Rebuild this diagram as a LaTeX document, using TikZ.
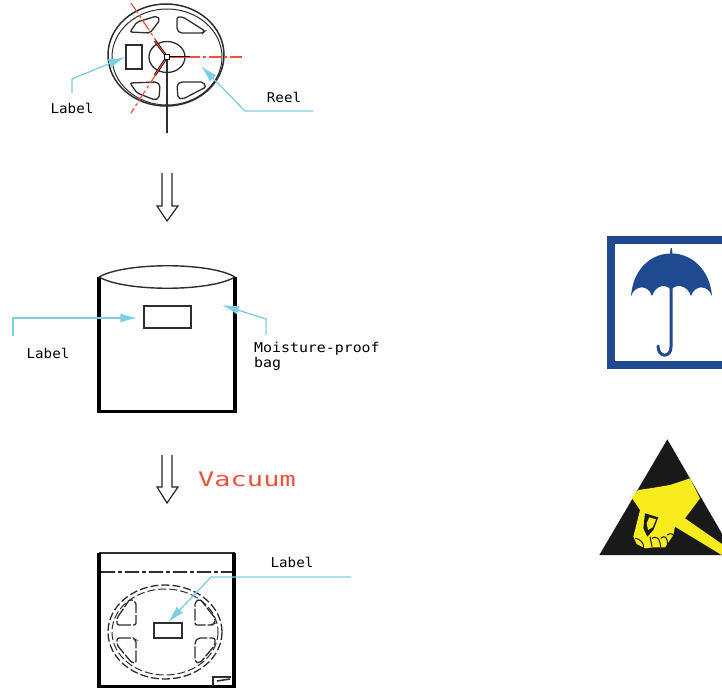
\documentclass[tikz,border=0pt]{standalone}
\usepackage{fontspec}
\setmonofont{DejaVu Sans Mono}
\usetikzlibrary{arrows.meta}
\definecolor{leader}{HTML}{7CCFE0}
\definecolor{linegray}{HTML}{2E2E2E}
\definecolor{redline}{HTML}{F0503C}
\definecolor{signblue}{HTML}{1F4A8F}
\definecolor{signyellow}{HTML}{F7EC1E}
\tikzset{
cad/.style={draw=linegray,line width=1.3pt},
cadtext/.style={inner sep=0pt,text=black,font=\ttfamily\fontsize{13.5}{15}\selectfont,align=left,transform shape,xscale=1.05},
callout/.style={draw=leader,line width=1.3pt,-{Latex[length=17pt,width=9pt]}},
labelbox/.style={cad,inner sep=0pt,minimum width=#1},
thickwall/.style={draw=black,line width=3.4pt,line cap=butt},
hollow/.style={draw=black!85,line width=1.2pt,fill=white,line join=miter},
reddash/.style={redline,line width=1.2pt,dash pattern=on 12pt off 3pt on 3pt off 3pt},
cutline/.style={cad,dash pattern=on 12pt off 2pt,rounded corners=2pt},
}
\begin{document}
\begin{tikzpicture}[x=1pt,y=-1pt]
\useasboundingbox(0,0)rectangle(722,688);
\clip(0,0)rectangle(722,688);
% reel
\draw[cad,line width=1.5pt](166,55)ellipse[x radius=58,y radius=51];\draw[cad,line width=1pt](167,57)ellipse[x radius=55,y radius=48];
\draw[cad](167,57)ellipse[x radius=18,y radius=15.5];
\draw[cad,rounded corners=2pt](130,32)--(137,22)--(157,16)--(160,20)--(150,33)--cycle;
\draw[cad,rounded corners=2pt](177,17)--(183,17)--(205,31)--(203,33)--(180,33)--(177,30)--cycle;
\draw[cad,rounded corners=2pt](130,83)--(157,82)--(160,85)--(159,98)--(155,100)--(137,93)--cycle;
\draw[cad,rounded corners=2pt](177,85)--(180,82)--(203,82)--(206,87)--(183,99)--(178,98)--cycle;
\node[labelbox=16pt,minimum height=24pt](reellabel) at(134,57){};
\draw[reddash](131,3)--(167,57)--(131,113);\draw[reddash](167,57)--(242,57);
\draw[black,line width=2.4pt](155,41)--(167,57)--(155,75);\draw[black,line width=2.4pt](167,57)--(190,57);
\draw[redline,line width=1pt](155,41)--(167,57)--(155,75);\draw[redline,line width=1pt](167,57)--(190,57);
\draw[cad](167,57)--(167,133);\draw[black,fill=white,line width=1.4pt](164.5,54.5)rectangle(169.5,59.5);
\coordinate(reellabelend) at(72,93);\coordinate(reellabelbend) at(72,79);
\coordinate(reelend) at(313,111);\coordinate(reelbend) at(245,111);\coordinate(reeltip) at(201,66);
\draw[callout](reellabelend)--(reellabelbend)--(reellabel.west);\draw[callout](reelend)--(reelbend)--(reeltip);
\node[cadtext](reellabeltext) at(72,108){Label};\node[cadtext](reeltext) at(284,97){Reel};
% arrows
\draw[hollow](162,173)--(162,206)--(157,206)--(167,221)--(178,206)--(172,206)--(172,173);
\draw[hollow](162,455)--(162,487)--(157,487)--(167,503)--(178,487)--(172,487)--(172,455);
\node[inner sep=0pt,text=redline,transform shape,xscale=1.35,font=\ttfamily\fontsize{20}{22}\selectfont](vacuumtext) at(247,479){Vacuum};
% bag
\draw[thickwall](99,277)--(99,411.5)--(235,411.5)--(235,277);
\draw[cad,line width=1.4pt](99,277)..controls(125,262)and(210,262)..(235,277);\draw[cad,line width=1.4pt](99,277)..controls(125,292)and(210,292)..(235,277);
\node[labelbox=47pt,minimum height=22pt](baglabel) at(167.5,317){};
\coordinate(baglabelend) at(13,336);\coordinate(baglabelbend) at(13,318);
\coordinate(bagend) at(266,335);\coordinate(bagbend) at(266,319);\coordinate(bagtip) at(222,305);
\draw[callout,shorten >=6pt](baglabelend)--(baglabelbend)--(baglabelbend-|baglabel.west);\draw[callout](bagend)--(bagbend)--(bagtip);
\node[cadtext](baglabeltext) at(48,353){Label};
\node[cadtext,anchor=north west,xscale=1.05](bagtext) at(254,342){Moisture-proof\\bag};
% vacuum bag
\draw[cad](99,553)--(235,553);\draw[black,line width=4.5pt](99,553)--(99,688);\draw[black,line width=4.5pt](234,553)--(234,688);\draw[black,line width=3pt](99,686)--(234,686);
\draw[cad,dash pattern=on 14pt off 3pt on 4pt off 3pt](101,572)--(232,572);
\draw[cad,dash pattern=on 8pt off 3pt](165,632)ellipse[x radius=57,y radius=47];\draw[cad,line width=1pt,dash pattern=on 8pt off 3pt](165,632)ellipse[x radius=53,y radius=43];
\draw[cutline](117,625)--(136,625)--(136,602)--(130,599)--(117,618)--cycle;
\draw[cutline](195,602)--(200,599)--(215,618)--(215,623)--(212,625)--(195,625)--cycle;
\draw[cutline](117,638)--(133,638)--(136,640)--(136,663)--(132,663)--(117,645)--cycle;
\draw[cutline](195,642)--(198,638)--(215,638)--(215,645)--(200,663)--(195,662)--cycle;
\node[labelbox=28pt,minimum height=15pt](vaclabel) at(168,630.5){};
\coordinate(vacend) at(351,577);\coordinate(vacbend) at(211,577);
\draw[callout](vacend)--(vacbend)--(vaclabel.north);
\node[cadtext](vactext) at(292,562){Label};
\draw[cad](213,686)--(213,677)--(231,677);\draw[cad,line width=1.6pt](217,681)--(230,679);
% rain sign
\draw[signblue,line width=7.5pt](722,240)--(611,240)--(611,365)--(722,365);
\fill[signblue](631,296)..controls(633,270)and(650,254)..(670,253.5)--(670.6,248)--(671.8,248)--(672.5,253.5)..controls(692,254)and(710,270)..(712,296)..controls(708,285)and(695,284)..(691,296)..controls(687,284)and(675,284)..(671,290)..controls(667,284)and(656,284)..(652,296)..controls(648,284)and(635,285)..(631,296)--cycle;
\draw[signblue,line width=3pt,line cap=round](671,288)--(671,347)..controls(671,358)and(658,358)..(658,346);
% esd sign
\begin{scope}[shift={(590,430)},scale=1/3]
\fill[black!90](232,28)--(433,375)--(28,375)--cycle;
\fill[signyellow](125,203)--(145,180)--(180,175)--(240,165)--(300,145)--(330,205)--(285,265)--(400,345)--(400,378)--(255,290)--(250,315)--(225,352)--(190,352)--(165,355)--(140,342)--(130,320)--(150,240)--cycle;
\fill[black!90](165,250)--(205,262)--(190,300)--(172,320)--(160,295)--cycle;
\fill[signyellow](178,262)--(198,268)--(188,292)--(174,300)--(170,280)--cycle;
\draw[black!90,line width=1pt](186,325)..controls(195,318)and(210,320)..(212,352);\draw[black!90,line width=1pt](212,325)..controls(222,315)and(235,318)..(232,350);\draw[black!90,line width=1pt](232,315)..controls(240,308)and(252,312)..(250,318);\draw[black!90,line width=1pt](136,325)..controls(148,325)and(165,340)..(160,355);\draw[black!90,line width=1pt](180,320)--(186,350);
\end{scope}
\end{tikzpicture}
\end{document}
